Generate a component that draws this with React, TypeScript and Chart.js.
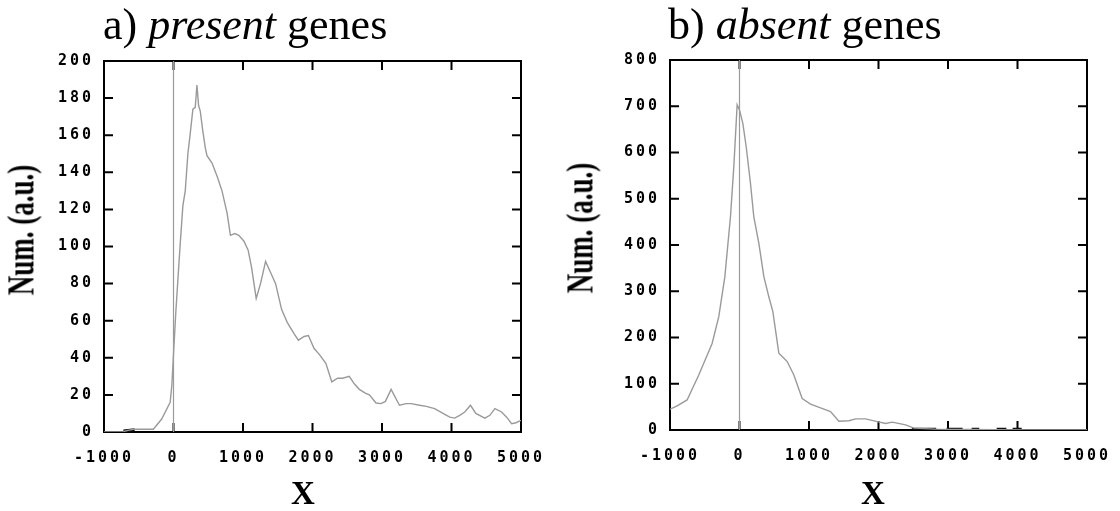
import React, { useEffect, useRef } from 'react';
import { Chart, registerables } from 'chart.js';

Chart.register(...registerables);

// ---- data ----
const xTickValues = [-1000, 0, 1000, 2000, 3000, 4000, 5000];

const presentX = [-1000, -720, -700, -580, -290, -170, -48, -24, 0, 34, 63, 96, 135, 169, 207, 241, 279, 313, 337, 361, 385, 419, 458, 482, 554, 626, 698, 771, 819, 881, 939, 1012, 1074, 1122, 1190, 1252, 1325, 1397, 1469, 1556, 1638, 1734, 1797, 1879, 1941, 2023, 2095, 2192, 2278, 2360, 2433, 2529, 2601, 2673, 2760, 2818, 2914, 2987, 3049, 3131, 3251, 3348, 3420, 3540, 3637, 3757, 3878, 3974, 4046, 4118, 4191, 4273, 4350, 4480, 4552, 4624, 4721, 4793, 4865, 4928, 5000];
const presentY = [0, 0, 0.5, 1.5, 1.5, 7, 16, 25, 42, 65, 82, 101, 122, 130, 150, 161, 174, 175, 187, 176, 173, 163, 153, 149, 145, 138, 130, 118, 106, 107, 106, 103, 98, 89, 72, 80, 92, 86, 80, 66, 59, 53, 49.5, 51.5, 52, 45, 42, 37, 27, 29, 29, 30, 26, 23, 21, 20, 15.6, 15.3, 16.5, 23, 14.4, 15.3, 15.3, 14.4, 13.8, 12.6, 10, 8, 7.5, 9, 10.8, 14.4, 10, 7.5, 9, 12.6, 10.8, 8, 4.5, 5, 6.3];
const presentDarkX = [-720, -560];
const presentDarkY = [0.6, 1.2];

const absentX = [-1000, -898, -754, -586, -394, -298, -211, -130, -82, -34, 0, 48, 96, 158, 206, 278, 350, 422, 480, 566, 614, 686, 782, 902, 1022, 1166, 1310, 1430, 1574, 1670, 1814, 1982, 2102, 2198, 2390, 2510, 2823, 3303, 4023, 5000];
const absentY = [45, 52, 65, 119, 187, 245, 331, 461, 569, 703, 692, 663, 613, 533, 461, 404, 332, 288, 256, 166, 159, 148, 119, 68, 56, 48, 40, 19, 20, 24, 24, 18, 14, 17, 11, 4, 2, 1, 0, 0];
const absentDarkX = [2480, 2830, 2980, 3210, 3340, 3450, 3700, 3840, 3930, 4060];
const absentDarkY = [1.5, 1.5, 1.5, 1.5, 1.5, 1.5, 1.5, 1.5, 1.5, 1.5];

const panelA = { yMax: 200, yStep: 20, titleLetter: 'a) ', titleItalic: 'present', titleRest: ' genes' };
const panelB = { yMax: 800, yStep: 100, titleLetter: 'b) ', titleItalic: 'absent', titleRest: ' genes' };

const GREY = '#9a9a9a';
const TICK_FONT = { family: '"DejaVu Sans Mono", monospace', size: 15, weight: 'bold' as const };
const SPACING = '3px';

function toPoints(xs: number[], ys: number[]) {
  return xs.map((x, i) => ({ x, y: ys[i] }));
}
function toSegments(xs: number[], ys: number[]) {
  const pts: { x: number; y: number | null }[] = [];
  for (let i = 0; i < xs.length; i += 2) {
    pts.push({ x: xs[i], y: ys[i] });
    pts.push({ x: xs[i + 1], y: ys[i + 1] });
    if (i + 2 < xs.length) pts.push({ x: (xs[i + 1] + xs[i + 2]) / 2, y: null });
  }
  return pts;
}

const spacingPlugin = {
  id: 'spacing',
  beforeUpdate(chart: any) { chart.ctx.letterSpacing = SPACING; },
  beforeLayout(chart: any) { chart.ctx.letterSpacing = SPACING; },
  beforeDraw(chart: any) { chart.ctx.letterSpacing = SPACING; },
};

const framePlugin = {
  id: 'frame',
  beforeDatasetsDraw(chart: any) {
    const { ctx, chartArea: a, scales } = chart;
    const L = 9;
    ctx.save();
    ctx.strokeStyle = '#000';
    ctx.lineWidth = 2;
    ctx.strokeRect(a.left, a.top, a.right - a.left, a.bottom - a.top);
    ctx.beginPath();
    scales.x.ticks.forEach((t: any) => {
      const p = scales.x.getPixelForValue(t.value);
      ctx.moveTo(p, a.bottom); ctx.lineTo(p, a.bottom - L);
      ctx.moveTo(p, a.top); ctx.lineTo(p, a.top + L);
    });
    scales.y.ticks.forEach((t: any) => {
      const p = scales.y.getPixelForValue(t.value);
      ctx.moveTo(a.left, p); ctx.lineTo(a.left + L, p);
      ctx.moveTo(a.right, p); ctx.lineTo(a.right - L, p);
    });
    ctx.stroke();
    ctx.restore();
  },
};

type PanelProps = {
  main: { x: number; y: number }[];
  dark: { x: number; y: number | null }[];
  yMax: number;
  yStep: number;
  yAxisWidth: number;
  xAxisHeight: number;
  padTop: number;
  padRight: number;
};

function Panel({ main, dark, yMax, yStep, yAxisWidth, xAxisHeight, padTop, padRight }: PanelProps) {
  const ref = useRef<HTMLCanvasElement>(null);
  useEffect(() => {
    if (!ref.current) return;
    const chart = new Chart(ref.current, {
      type: 'line',
      data: {
        datasets: [
          { data: [{ x: 0, y: 0 }, { x: 0, y: yMax }], borderColor: GREY, borderWidth: 1.2, pointRadius: 0 },
          { data: main, borderColor: GREY, borderWidth: 1.4, pointRadius: 0, tension: 0 },
          { data: dark, borderColor: '#111', borderWidth: 3, pointRadius: 0, spanGaps: false },
        ],
      },
      options: {
        animation: false,
        responsive: false,
        maintainAspectRatio: false,
        devicePixelRatio: 1,
        layout: { padding: { left: 0, top: padTop, right: padRight, bottom: 0 } },
        plugins: { legend: { display: false }, tooltip: { enabled: false }, title: { display: false } },
        scales: {
          x: {
            type: 'linear',
            min: -1000,
            max: 5000,
            afterBuildTicks: (s: any) => { s.ticks = xTickValues.map((v) => ({ value: v })); },
            afterFit: (s: any) => { s.height = xAxisHeight; s.paddingLeft = 0; s.paddingRight = 0; },
            grid: { display: false, drawTicks: false, tickLength: 0 },
            border: { display: false },
            ticks: { autoSkip: false, maxRotation: 0, padding: 17, color: '#000', font: TICK_FONT, callback: (v: any) => String(v) },
          },
          y: {
            type: 'linear',
            min: 0,
            max: yMax,
            afterFit: (s: any) => { s.width = yAxisWidth; s.paddingTop = 0; s.paddingBottom = 0; },
            grid: { display: false, drawTicks: false, tickLength: 0 },
            border: { display: false },
            ticks: { stepSize: yStep, padding: 10, color: '#000', font: TICK_FONT, callback: (v: any) => String(v) },
          },
        },
      },
      plugins: [spacingPlugin, framePlugin],
    } as any);
    return () => chart.destroy();
  }, []);
  return <canvas ref={ref} width={560} height={511} style={{ width: 560, height: 511, display: 'block' }} />;
}

const serif = '"Liberation Serif", "Times New Roman", serif';

function Title({ left, p }: { left: number; p: typeof panelA }) {
  return (
    <div style={{ position: 'absolute', left, top: 3, fontFamily: serif, fontSize: 44, lineHeight: '44px', whiteSpace: 'nowrap', color: '#000' }}>
      {p.titleLetter}<i>{p.titleItalic}</i>{p.titleRest}
    </div>
  );
}

function YTitle({ cx, cy }: { cx: number; cy: number }) {
  return (
    <div style={{ position: 'absolute', left: cx, top: cy, fontFamily: serif, fontWeight: 'bold', fontSize: 27, lineHeight: '27px', whiteSpace: 'nowrap', transform: 'translate(-50%, -50%) rotate(-90deg) scaleY(1.39)', color: '#000' }}>
      Num. (a.u.)
    </div>
  );
}

function XTitle({ cx }: { cx: number }) {
  return (
    <div style={{ position: 'absolute', left: cx, top: 477, transform: 'translateX(-50%)', fontFamily: serif, fontWeight: 'bold', fontSize: 33, lineHeight: '33px', color: '#000' }}>
      X
    </div>
  );
}

export default function App() {
  return (
    <div style={{ position: 'fixed', left: 0, top: 0, width: 1120, height: 511, background: '#fff', overflow: 'hidden' }}>
      <div style={{ position: 'absolute', left: 0, top: 0 }}>
        <Panel main={toPoints(presentX, presentY)} dark={toSegments(presentDarkX, presentDarkY)} yMax={panelA.yMax} yStep={panelA.yStep} yAxisWidth={104} xAxisHeight={79} padTop={61} padRight={39} />
      </div>
      <div style={{ position: 'absolute', left: 560, top: 0 }}>
        <Panel main={toPoints(absentX, absentY)} dark={toSegments(absentDarkX, absentDarkY)} yMax={panelB.yMax} yStep={panelB.yStep} yAxisWidth={110} xAxisHeight={81} padTop={60} padRight={33} />
      </div>
      <Title left={103} p={panelA} />
      <Title left={668} p={panelB} />
      <YTitle cx={22} cy={230} />
      <YTitle cx={581} cy={228} />
      <XTitle cx={303} />
      <XTitle cx={873} />
    </div>
  );
}
